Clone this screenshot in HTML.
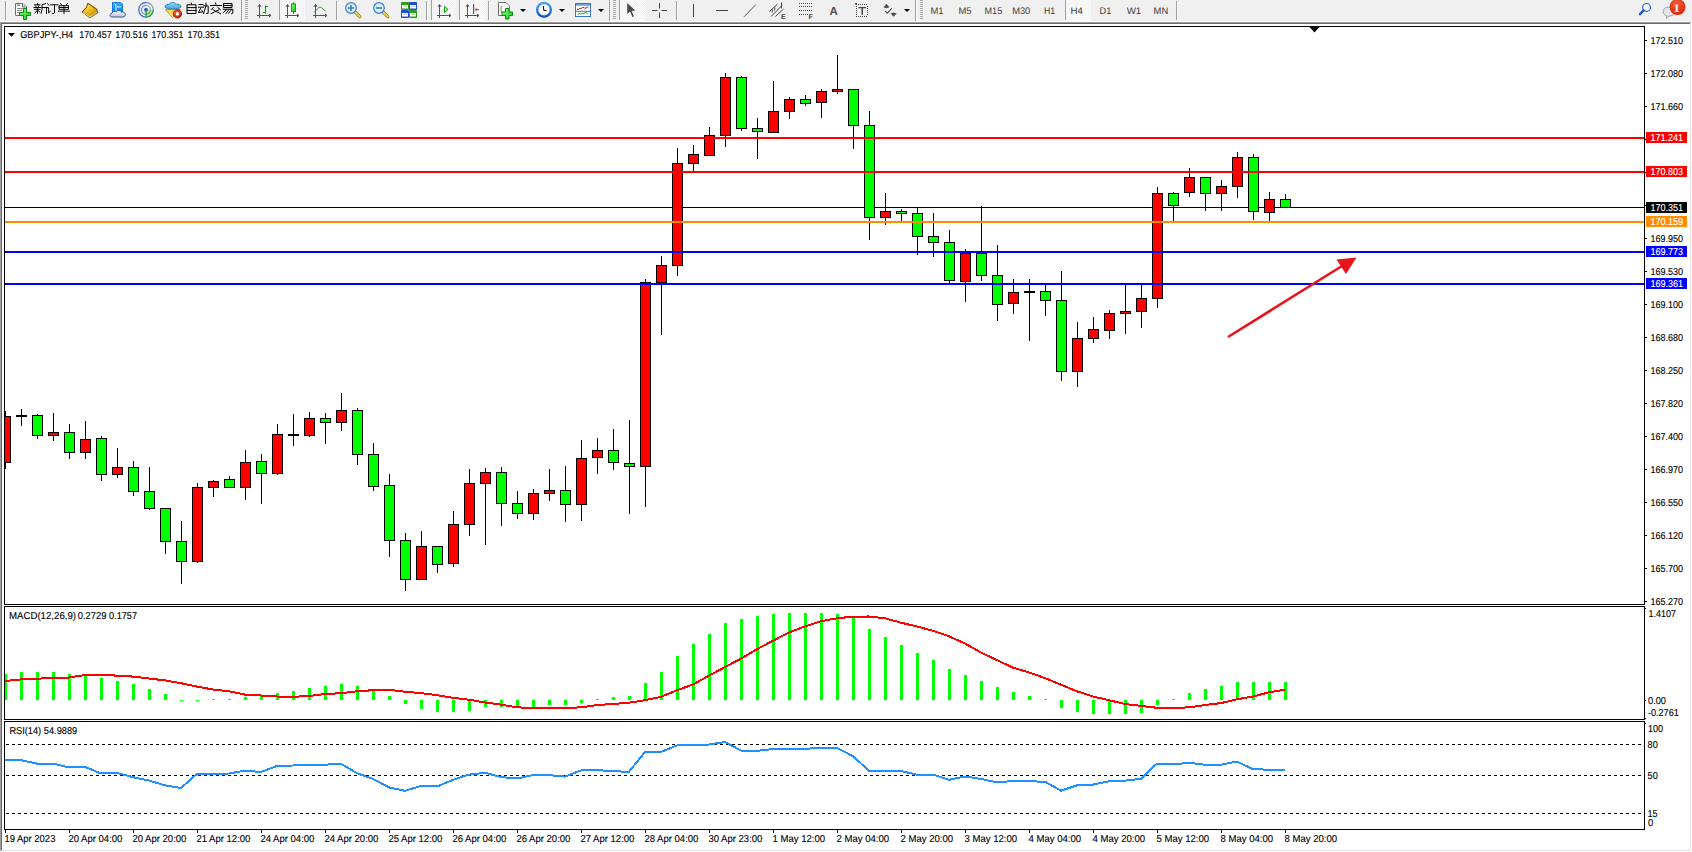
<!DOCTYPE html><html><head><meta charset="utf-8"><title>MT4 GBPJPY H4</title><style>html,body{margin:0;padding:0;background:#fff;}body{width:1692px;height:852px;overflow:hidden;}svg{display:block;font-family:"Liberation Sans",sans-serif;}text{text-rendering:geometricPrecision;}</style></head><body><svg width="1692" height="852" viewBox="0 0 1692 852" font-family="Liberation Sans, sans-serif"><rect x="0" y="0" width="1692" height="852" fill="#fff"/><rect x="0" y="0" width="1692" height="21" fill="#f0f0f0"/><rect x="0" y="21" width="1692" height="1" fill="#f7f7f7"/><rect x="0" y="22" width="1691" height="1" fill="#a0a0a0"/><rect x="0" y="23" width="1690" height="1" fill="#696969"/><rect x="0" y="22" width="1" height="829" fill="#a0a0a0"/><rect x="1" y="23" width="1" height="827" fill="#696969"/><rect x="1690" y="24" width="1" height="827" fill="#e3e3e3"/><rect x="1" y="850" width="1690" height="1" fill="#e3e3e3"/><g id="toolbar"><defs>
<pattern id="chk" width="2" height="2" patternUnits="userSpaceOnUse"><rect width="2" height="2" fill="#f0f0f0"/><rect width="1" height="1" fill="#fff"/><rect x="1" y="1" width="1" height="1" fill="#fff"/></pattern>
<linearGradient id="gGreen" x1="0" y1="0" x2="1" y2="1"><stop offset="0" stop-color="#9cf59c"/><stop offset="1" stop-color="#00d400"/></linearGradient>
<linearGradient id="gGold" x1="0" y1="0" x2="1" y2="1"><stop offset="0" stop-color="#fff1a0"/><stop offset="0.5" stop-color="#f0c418"/><stop offset="1" stop-color="#c88a10"/></linearGradient>
<linearGradient id="gBlue" x1="0" y1="0" x2="0" y2="1"><stop offset="0" stop-color="#34b4ff"/><stop offset="1" stop-color="#0a84e8"/></linearGradient>
<linearGradient id="gCloud" x1="0" y1="0" x2="0" y2="1"><stop offset="0" stop-color="#ffffff"/><stop offset="1" stop-color="#b8c4dc"/></linearGradient>
<linearGradient id="gHat" x1="0" y1="0" x2="0" y2="1"><stop offset="0" stop-color="#9fd6f6"/><stop offset="1" stop-color="#4aa8e0"/></linearGradient>
<linearGradient id="gCone" x1="0" y1="0" x2="0" y2="1"><stop offset="0" stop-color="#f4d040"/><stop offset="1" stop-color="#fff890"/></linearGradient>
<radialGradient id="gRed" cx="0.4" cy="0.35" r="0.7"><stop offset="0" stop-color="#ff5a3a"/><stop offset="1" stop-color="#c81800"/></radialGradient>
<radialGradient id="gBadge" cx="0.45" cy="0.3" r="0.75"><stop offset="0" stop-color="#f06040"/><stop offset="1" stop-color="#d82000"/></radialGradient>
<radialGradient id="gLens" cx="0.5" cy="0.5" r="0.5"><stop offset="0" stop-color="#f4fbff"/><stop offset="1" stop-color="#c6e6fa"/></radialGradient>
</defs>
<!-- separators -->
<g fill="#a0a0a0">
<rect x="5" y="1" width="1" height="19"/>
<rect x="241" y="0" width="1" height="21"/>
<rect x="336" y="1" width="1" height="19"/>
<rect x="426" y="1" width="1" height="19"/>
<rect x="488" y="1" width="1" height="19"/>
<rect x="609" y="0" width="1" height="21"/>
<rect x="676" y="1" width="1" height="19"/>
<rect x="915" y="0" width="1" height="21"/>
<rect x="1176" y="1" width="1" height="19"/>
</g>
<g fill="#fafafa">
<rect x="6" y="1" width="1" height="19"/>
<rect x="242" y="0" width="1" height="21"/>
<rect x="337" y="1" width="1" height="19"/>
<rect x="427" y="1" width="1" height="19"/>
<rect x="489" y="1" width="1" height="19"/>
<rect x="610" y="0" width="1" height="21"/>
<rect x="677" y="1" width="1" height="19"/>
<rect x="916" y="0" width="1" height="21"/>
<rect x="1177" y="1" width="1" height="19"/>
</g>
<!-- grippers -->
<g fill="#a8a8a8">
<path d="M245,0h3v1h-3zM245,2h3v1h-3zM245,4h3v1h-3zM245,6h3v1h-3zM245,8h3v1h-3zM245,10h3v1h-3zM245,12h3v1h-3zM245,14h3v1h-3zM245,16h3v1h-3zM245,18h3v1h-3z"/>
<path d="M613,0h3v1h-3zM613,2h3v1h-3zM613,4h3v1h-3zM613,6h3v1h-3zM613,8h3v1h-3zM613,10h3v1h-3zM613,12h3v1h-3zM613,14h3v1h-3zM613,16h3v1h-3zM613,18h3v1h-3z"/>
<path d="M920,0h3v1h-3zM920,2h3v1h-3zM920,4h3v1h-3zM920,6h3v1h-3zM920,8h3v1h-3zM920,10h3v1h-3zM920,12h3v1h-3zM920,14h3v1h-3zM920,16h3v1h-3zM920,18h3v1h-3z"/>
</g>
<!-- pressed buttons -->
<g>
<rect x="279" y="0" width="1" height="20" fill="#a0a0a0"/><rect x="280" y="0" width="25" height="20" fill="url(#chk)"/><rect x="279" y="20" width="26" height="1" fill="#fff"/>
<rect x="431" y="0" width="1" height="20" fill="#a0a0a0"/><rect x="432" y="0" width="24" height="20" fill="url(#chk)"/><rect x="431" y="20" width="25" height="1" fill="#fff"/>
<rect x="459" y="0" width="1" height="20" fill="#a0a0a0"/><rect x="460" y="0" width="25" height="20" fill="url(#chk)"/><rect x="459" y="20" width="26" height="1" fill="#fff"/>
<rect x="619" y="0" width="1" height="20" fill="#a0a0a0"/><rect x="620" y="0" width="25" height="20" fill="url(#chk)"/><rect x="619" y="20" width="26" height="1" fill="#fff"/>
<rect x="1065" y="0" width="1" height="20" fill="#a0a0a0"/><rect x="1066" y="0" width="25" height="20" fill="url(#chk)"/><rect x="1065" y="20" width="26" height="1" fill="#fff"/>
</g>
<!-- new order icon -->
<g>
<path d="M15.5,3.5 h7.5 l3.5,3.5 v8.5 h-11 z" fill="#fff" stroke="#6e6e6e" stroke-width="1"/>
<path d="M22.5,3.5 v3.5 h3.5" fill="#ddd" stroke="#6e6e6e" stroke-width="1"/>
<rect x="17" y="4.5" width="3" height="1.5" fill="#888"/>
<rect x="17" y="8" width="6" height="1" fill="#888"/>
<rect x="17" y="10" width="5" height="1" fill="#888"/>
<rect x="17" y="12" width="3" height="1" fill="#888"/>
<path d="M23.5,8.5 h3 v4 h4 v3 h-4 v4 h-3 v-4 h-4 v-3 h4 z" fill="url(#gGreen)" stroke="#0a8a0a" stroke-width="1"/>
</g>
<!-- 新订单 -->
<g fill="none" stroke="#000" stroke-width="1" stroke-linecap="square" transform="matrix(1,0,0,0.907,0,0.7)">
<path d="M37.5,3.2 v1.2 M34.5,4.5 h5.5 M35.6,5.6 l0.5,1 M38.9,5.6 l-0.5,1 M34,7.5 h6.5 M34.5,9.5 h5.5 M37.5,7.5 v6.5 M37,10.8 l-2,2.7 M38,10.8 l1.8,1.7"/>
<path d="M45.5,3.2 l-3.5,1.3 v5 l-0.8,4.3 M42,7.5 h5.5 M46.5,7.5 v6.5"/>
<path d="M47.6,3.2 l1,1.6 M47.6,7.6 h1 v6 l1.8,-2.2"/>
<path d="M50.5,4.5 h7.5 M54.5,4.5 v9 l-0.6,0.5 h-1.6"/>
<path d="M60.6,3.2 l1,1.3 M67.4,3.2 l-1,1.3 M59.5,5.5 h9 v4 h-9 z M59.5,7.5 h9 M64,5.5 v8.8 M58.5,11.5 h11"/>
</g>
<!-- gold book -->
<g stroke-linejoin="round">
<path d="M87.8,3.2 L96.6,9.3 L97.7,12.5 L89.8,17.6 L82.2,11.9 L86.4,7.6 Z" fill="#d9a21a" stroke="#8a5806" stroke-width="1.1"/>
<path d="M88.2,4.2 L95.8,9.6 L89.6,14.6 L83.6,11.2 L86.9,7.9 Z" fill="url(#gGold)"/>
<path d="M83.2,12.2 L89.7,16.8 L96.8,12.2" fill="none" stroke="#f6e09a" stroke-width="1"/>
<path d="M90.5,15.6 L96.6,11.6" fill="none" stroke="#b8861a" stroke-width="0.6"/>
</g>
<!-- cloud server -->
<g>
<path d="M112.5,2.5 h8 l2,1.5 v8 h-10 z" fill="url(#gBlue)" stroke="#1a78d0" stroke-width="1"/>
<path d="M114.5,3.5 l1.5,1.5 v6" fill="none" stroke="#e0f4ff" stroke-width="1"/>
<rect x="117" y="6.5" width="4" height="1" fill="#e0f4ff"/>
<path d="M111.5,17 C109.5,17 109.5,13.5 112,13.2 C112.3,11 115.5,10.6 116.2,11.8 C117,9.8 121,10 121.5,12.3 C124,11.5 126.5,13.5 124.8,16 C124.5,17 123.5,17 122.5,17 Z" fill="url(#gCloud)" stroke="#3a5896" stroke-width="1"/>
</g>
<!-- signal -->
<g fill="none">
<path d="M146,9.8 L146,17.1 A7.3,7.3 0 0 0 153.3,9.8 Z" fill="#b4e0b4" stroke="none" opacity="0.8"/>
<path d="M146,2.5 A7.3,7.3 0 0 0 146,17.1" stroke="#4a6ed6" stroke-width="1.3"/>
<path d="M146,2.5 A7.3,7.3 0 0 1 153.3,9.8" stroke="#7fa0c8" stroke-width="1.3"/>
<path d="M153.3,9.8 A7.3,7.3 0 0 1 146,17.1" stroke="#2e9a3e" stroke-width="1.3"/>
<path d="M146,5.3 A4.5,4.5 0 0 0 146,14.3" stroke="#6e8ed8" stroke-width="1.2"/>
<path d="M146,5.3 A4.5,4.5 0 0 1 150.5,9.8" stroke="#9ab8c8" stroke-width="1.2"/>
<path d="M150.5,9.8 A4.5,4.5 0 0 1 146,14.3" stroke="#5aae5a" stroke-width="1.2"/>
<circle cx="146" cy="9.8" r="1.9" fill="#2050d0"/>
<rect x="145.4" y="10" width="1.3" height="7.6" fill="#1eaa1e"/>
</g>
<!-- auto trading -->
<g>
<path d="M165.5,9.5 L180.8,9.5 L172.4,17.5 Z" fill="url(#gCone)" stroke="#c89a10" stroke-width="1" stroke-linejoin="round"/>
<path d="M165,6.8 C165,4.5 168.5,4.2 169.5,4.4 C170,2 175,1.8 175.5,4.2 C178.5,4 181.5,5 181,6.8 C180,8.6 176,8.8 173,8.8 C169,8.8 165.5,8.6 165,6.8 Z" fill="url(#gHat)" stroke="#2080b0" stroke-width="1"/>
<circle cx="177.4" cy="13.9" r="4.2" fill="url(#gRed)" stroke="#a01000" stroke-width="0.8"/>
<rect x="175.9" y="12.4" width="3" height="3" fill="#fff"/>
</g>
<!-- 自动交易 -->
<g fill="none" stroke="#000" stroke-width="1" stroke-linecap="square">
<path d="M191.2,3 l0.4,1.3 M187.5,4.8 h8.5 v8.7 h-8.5 z M187.5,7.6 h8.5 M187.5,10.4 h8.5"/>
<path d="M199,4.5 h4 M198.5,7.2 h5 M200.5,8.5 l-2,4 l4.2,-0.6 M201.8,10.3 l1,1.8"/>
<path d="M206,3.2 v2.6 l-2.5,7.8 M203.8,5.9 h4.4 v7.4 l-1.6,0.2"/>
<path d="M215.5,3 l0.4,1.3 M210.5,5.5 h11 M213.3,7.5 l-2,2 M217.8,7.5 l2.5,2 M213,9.8 l7.5,3.9 M219,9.8 l-8,3.9"/>
<path d="M224,3.5 h8 v4 h-8 z M224,5.5 h8 M223.2,9.2 h9.6 v4 l-1.2,0.5 M226.5,9.6 l-3,2.8 M229,9.6 l-3,3.8 M231.5,9.6 l-3,3.8"/>
</g>
<!-- bar chart icon -->
<g fill="none" stroke="#545454" stroke-width="1">
<path d="M259.5,5 v13 M257,15.5 h13.5"/>
<path d="M258,6.5 l1.5,-2 l1.5,2 M269,14 l2,1.5 l-2,1.5" fill="#545454"/>
</g>
<path d="M265.5,5.5 v8.3 M263,12.5 h2.5 M265.5,6.5 h2.4" fill="none" stroke="#10a010" stroke-width="1.1"/>
<!-- candle icon -->
<g fill="none" stroke="#545454" stroke-width="1">
<path d="M287.5,5 v13 M285,15.5 h13.5"/>
<path d="M286,6.5 l1.5,-2 l1.5,2 M297,14 l2,1.5 l-2,1.5" fill="#545454"/>
</g>
<rect x="293" y="2" width="1" height="12" fill="#10a010"/>
<rect x="291.5" y="4" width="4" height="7.5" fill="url(#gGreen)" stroke="#10a010" stroke-width="1"/>
<!-- line chart icon -->
<g fill="none" stroke="#545454" stroke-width="1">
<path d="M315.5,5 v13 M313,15.5 h13.5"/>
<path d="M314,6.5 l1.5,-2 l1.5,2 M325,14 l2,1.5 l-2,1.5" fill="#545454"/>
</g>
<path d="M314.2,12.4 C316.5,10 318.5,7 320.2,7.1 C322,7.2 323.8,10.4 325.6,10.9" fill="none" stroke="#2a9a2a" stroke-width="1"/>
<!-- zoom in / out -->
<g>
<path d="M354.2,11.2 L359.8,16.6" stroke="#9a7a10" stroke-width="3.2" stroke-linecap="round"/>
<path d="M354.2,11.2 L359.8,16.6" stroke="#ecd860" stroke-width="1.6" stroke-linecap="round"/>
<circle cx="351" cy="8" r="5.3" fill="url(#gLens)" stroke="#3a82d0" stroke-width="1.2"/>
<path d="M348,8 h6 M351,5 v6" stroke="#3a80a8" stroke-width="1.6"/>
<path d="M382.2,11.2 L387.8,16.6" stroke="#9a7a10" stroke-width="3.2" stroke-linecap="round"/>
<path d="M382.2,11.2 L387.8,16.6" stroke="#ecd860" stroke-width="1.6" stroke-linecap="round"/>
<circle cx="379" cy="8" r="5.3" fill="url(#gLens)" stroke="#3a82d0" stroke-width="1.2"/>
<path d="M376,8 h6" stroke="#3a80a8" stroke-width="1.6"/>
</g>
<!-- tile windows -->
<g>
<rect x="401" y="2" width="8" height="8" rx="0.8" fill="#2c9c1c"/>
<rect x="409" y="2" width="8" height="8" rx="0.8" fill="#1f4fd0"/>
<rect x="401" y="10" width="8" height="8" rx="0.8" fill="#1f4fd0"/>
<rect x="409" y="10" width="8" height="8" rx="0.8" fill="#2c9c1c"/>
<g fill="#fff"><rect x="402" y="5" width="6" height="3.5"/><rect x="410" y="5" width="6" height="3.5"/><rect x="402" y="13" width="6" height="3.5"/><rect x="410" y="13" width="6" height="3.5"/></g>
<g fill="#a0d890"><rect x="403" y="6" width="4" height="0.8"/><rect x="411" y="14" width="4" height="0.8"/></g>
<g fill="#90a8e8"><rect x="411" y="6" width="1.5" height="0.8"/><rect x="413.5" y="6" width="1.5" height="0.8"/><rect x="403" y="14" width="1.5" height="0.8"/><rect x="405.5" y="14" width="1.5" height="0.8"/></g>
</g>
<!-- autoscroll -->
<g fill="none" stroke="#545454" stroke-width="1">
<path d="M439.5,5 v13 M437,15.5 h13.5"/>
<path d="M438,6.5 l1.5,-2 l1.5,2 M449,14 l2,1.5 l-2,1.5" fill="#545454"/>
</g>
<path d="M444.5,6.5 L448,9.5 L444.5,12.5 Z" fill="#b8f0b0" stroke="#10a010" stroke-width="1"/>
<!-- chart shift -->
<g fill="none" stroke="#545454" stroke-width="1">
<path d="M467.5,5 v13 M465,15.5 h13.5"/>
<path d="M466,6.5 l1.5,-2 l1.5,2 M477,14 l2,1.5 l-2,1.5" fill="#545454"/>
</g>
<rect x="473" y="4" width="1.2" height="10" fill="#1a6aa8"/>
<path d="M474.5,9.5 L477,7.3 L476.4,9 L479,9 L479,10 L476.4,10 L477,11.7 Z" fill="#e04a10"/>
<!-- new chart -->
<g>
<path d="M498.5,2.5 h7.5 l3.3,3.3 v9.7 h-10.8 z" fill="#fff" stroke="#6e6e6e" stroke-width="1"/>
<path d="M501.5,6 c-0.6,2 -0.6,4.5 0,7" stroke="#555" fill="none" stroke-width="0.8"/>
<path d="M505.5,8.5 h3.5 v3.5 h3.5 v3.5 h-3.5 v3.5 h-3.5 v-3.5 h-3.5 v-3.5 h3.5 z" fill="url(#gGreen)" stroke="#0a8a0a" stroke-width="1"/>
</g>
<g fill="#000">
<path d="M520,9 h6 l-3,3 z"/>
<path d="M559,9 h6 l-3,3 z"/>
<path d="M598,9 h6 l-3,3 z"/>
<path d="M904,9 h6 l-3,3 z"/>
</g>
<!-- clock -->
<g>
<defs><linearGradient id="gClk" x1="0" y1="0" x2="0" y2="1"><stop offset="0" stop-color="#4aa8ff"/><stop offset="1" stop-color="#0a4ca8"/></linearGradient></defs>
<circle cx="544" cy="9.8" r="8" fill="url(#gClk)"/>
<circle cx="544" cy="9.8" r="5.7" fill="#fff"/>
<path d="M543.4,6 L543.7,10 L546.6,10.8" fill="none" stroke="#111" stroke-width="1.1"/>
<g fill="#999"><rect x="543.5" y="4.4" width="1" height="0.8"/><rect x="548.6" y="9.4" width="0.8" height="1"/><rect x="538.6" y="9.4" width="0.8" height="1"/><rect x="543.5" y="14.4" width="1.2" height="0.8" fill="#5aa0ff"/></g>
</g>
<!-- templates -->
<g>
<rect x="575.5" y="3.5" width="15" height="13" fill="#fff" stroke="#3a74c4" stroke-width="1"/>
<rect x="576" y="4" width="14" height="1.8" fill="#6aa4e4"/>
<rect x="576" y="10.8" width="14" height="1" fill="#3a74c4"/>
<path d="M577,9.3 h1.5 l1.5,-1 l1.5,0 l1.5,-1 l1.5,0.8 l1.5,0 l1.5,-1 h1" fill="none" stroke="#a82810" stroke-width="1"/>
<path d="M578,14.3 l1.5,-0.8 l1.5,0.6 l1.5,-0.8 l1.5,0.5 l1.5,-1.8 l2,2" fill="none" stroke="#1a9a1a" stroke-width="1"/>
</g>
<!-- cursor -->
<path d="M627.2,3 L635.2,10.6 L631.6,10.9 L634,16.4 L632.4,17.1 L630.1,11.6 L627.2,14 Z" fill="#4a4a4a"/>
<!-- crosshair -->
<path d="M659.5,3 v5.5 M659.5,12.5 v5.5 M652,10.5 h5.5 M661.5,10.5 h5.5" stroke="#444" stroke-width="1"/>
<!-- v line, h line, trend line -->
<rect x="693" y="4" width="1" height="13" fill="#444"/>
<rect x="716" y="10" width="12" height="1" fill="#444"/>
<path d="M744,16.8 L755.8,4.6" stroke="#555" stroke-width="1"/>
<!-- channel E -->
<g stroke="#444" stroke-width="1" fill="none">
<path d="M769.5,11.5 L777.5,4 M771,16.5 L782,5.5 M775.5,16.5 L783.5,9"/>
<path d="M772.5,9.5 l-0.5,3 M775,7.5 l-0.5,3 M781.5,2.5 v6"/>
</g>
<text x="781" y="19" font-size="7" font-weight="bold" fill="#444">E</text>
<!-- fibo -->
<g fill="#444">
<path d="M799,3h1v1h-1zM801,3h1v1h-1zM803,3h1v1h-1zM805,3h1v1h-1zM807,3h1v1h-1zM809,3h1v1h-1zM811,3h1v1h-1z"/>
<path d="M799,6h1v1h-1zM801,6h1v1h-1zM803,6h1v1h-1zM805,6h1v1h-1zM807,6h1v1h-1zM809,6h1v1h-1zM811,6h1v1h-1z"/>
<path d="M799,10h1v1h-1zM801,10h1v1h-1zM803,10h1v1h-1zM805,10h1v1h-1zM807,10h1v1h-1zM809,10h1v1h-1zM811,10h1v1h-1z"/>
<path d="M799,14h1v1h-1zM801,14h1v1h-1zM803,14h1v1h-1zM805,14h1v1h-1zM807,14h1v1h-1z"/>
</g>
<text x="808.6" y="19" font-size="7" font-weight="bold" fill="#444">F</text>
<!-- A -->
<text x="829.6" y="15" font-size="11.5" font-weight="bold" fill="#505050">A</text>
<!-- T label -->
<g fill="#444">
<path d="M856,4h1v1h-1zM858,4h1v1h-1zM860,4h1v1h-1zM862,4h1v1h-1zM864,4h1v1h-1zM866,4h1v1h-1z"/>
<path d="M856,16h1v1h-1zM858,16h1v1h-1zM860,16h1v1h-1zM862,16h1v1h-1zM864,16h1v1h-1zM866,16h1v1h-1z"/>
<path d="M856,6h1v1h-1zM856,8h1v1h-1zM856,10h1v1h-1zM856,12h1v1h-1zM856,14h1v1h-1z"/>
<path d="M867,6h1v1h-1zM867,8h1v1h-1zM867,10h1v1h-1zM867,12h1v1h-1zM867,14h1v1h-1z"/>
<rect x="855" y="3" width="2" height="1.5"/>
<path d="M858.5,7 h7.5 v1.3 h-3 v6.4 h-1.5 v-6.4 h-3 z"/>
</g>
<!-- arrows icon -->
<g fill="#4a4a4a">
<path d="M886.5,4 L889.5,7.2 L886.5,8.2 L883.5,7.2 Z"/>
<path d="M893.6,16.8 L890.6,13.6 L893.6,12.6 L896.6,13.6 Z"/>
</g>
<path d="M885.2,11.2 L887.2,13.2 L891.8,8.4" fill="none" stroke="#4a4a4a" stroke-width="1.1"/>
<!-- timeframes -->
<g font-size="9.6" fill="#3c3c3c">
<text x="930.4" y="13.6" textLength="13" lengthAdjust="spacingAndGlyphs">M1</text>
<text x="958.4" y="13.6" textLength="13" lengthAdjust="spacingAndGlyphs">M5</text>
<text x="984.5" y="13.6" textLength="17.7" lengthAdjust="spacingAndGlyphs">M15</text>
<text x="1012.2" y="13.6" textLength="18.1" lengthAdjust="spacingAndGlyphs">M30</text>
<text x="1043.9" y="13.6" textLength="11.2" lengthAdjust="spacingAndGlyphs">H1</text>
<text x="1070.6" y="13.6" textLength="12.3" lengthAdjust="spacingAndGlyphs">H4</text>
<text x="1099.5" y="13.6" textLength="11.8" lengthAdjust="spacingAndGlyphs">D1</text>
<text x="1126.7" y="13.6" textLength="14.6" lengthAdjust="spacingAndGlyphs">W1</text>
<text x="1153.6" y="13.6" textLength="14.6" lengthAdjust="spacingAndGlyphs">MN</text>
</g>
<!-- search -->
<g>
<circle cx="1646.6" cy="7.4" r="3.9" fill="#f4f6ff" stroke="#2a62d4" stroke-width="1.2"/>
<path d="M1643.6,10.4 L1640,14.2" stroke="#1f54c8" stroke-width="2.4" stroke-linecap="round"/>
</g>
<!-- chat + badge -->
<g>
<path d="M1668.5,7.2 C1664,7.2 1663,10 1663.2,12 C1663.4,14.5 1665.5,15.6 1667,15.8 L1666.2,18.2 L1669.2,15.9 C1672,15.9 1675,15 1675,11.6 C1675,8.5 1672,7.2 1668.5,7.2 Z" fill="#e4e6ee" stroke="#a0a0a0" stroke-width="1"/>
<circle cx="1677.5" cy="7" r="8" fill="url(#gBadge)"/>
<text x="1676.6" y="11.9" font-size="11.5" font-weight="bold" font-family="Liberation Serif" fill="#fff" text-anchor="middle">1</text>
</g>
</g><!-- CHART --><g shape-rendering="crispEdges"><rect x="4.5" y="26.5" width="1640" height="578" fill="none" stroke="#000"/><rect x="4.5" y="606.5" width="1640" height="113" fill="none" stroke="#000"/><rect x="4.5" y="721.5" width="1640" height="108" fill="none" stroke="#000"/></g><clipPath id="cm"><rect x="5" y="27" width="1639" height="577"/></clipPath><clipPath id="cd"><rect x="5" y="607" width="1639" height="112"/></clipPath><clipPath id="cr"><rect x="5" y="722" width="1639" height="107"/></clipPath><g clip-path="url(#cm)" shape-rendering="crispEdges"><rect x="5" y="207" width="1639" height="1" fill="#000"/><rect x="5" y="411" width="1" height="5" fill="#000"/><rect x="5" y="463" width="1" height="6" fill="#000"/><rect x="0" y="416" width="11" height="47" fill="#000"/><rect x="1" y="417" width="9" height="45" fill="#ff0000"/><rect x="21" y="409" width="1" height="6" fill="#000"/><rect x="21" y="417" width="1" height="9" fill="#000"/><rect x="16" y="415" width="11" height="2" fill="#000"/><rect x="37" y="414" width="1" height="1" fill="#000"/><rect x="37" y="436" width="1" height="3" fill="#000"/><rect x="32" y="415" width="11" height="21" fill="#000"/><rect x="33" y="416" width="9" height="19" fill="#00ff00"/><rect x="53" y="413" width="1" height="19" fill="#000"/><rect x="53" y="436" width="1" height="5" fill="#000"/><rect x="48" y="432" width="11" height="4" fill="#000"/><rect x="49" y="433" width="9" height="2" fill="#ff0000"/><rect x="69" y="424" width="1" height="8" fill="#000"/><rect x="69" y="453" width="1" height="6" fill="#000"/><rect x="64" y="432" width="11" height="21" fill="#000"/><rect x="65" y="433" width="9" height="19" fill="#00ff00"/><rect x="85" y="421" width="1" height="18" fill="#000"/><rect x="85" y="453" width="1" height="6" fill="#000"/><rect x="80" y="439" width="11" height="14" fill="#000"/><rect x="81" y="440" width="9" height="12" fill="#ff0000"/><rect x="101" y="436" width="1" height="2" fill="#000"/><rect x="101" y="475" width="1" height="6" fill="#000"/><rect x="96" y="438" width="11" height="37" fill="#000"/><rect x="97" y="439" width="9" height="35" fill="#00ff00"/><rect x="117" y="448" width="1" height="19" fill="#000"/><rect x="117" y="475" width="1" height="3" fill="#000"/><rect x="112" y="467" width="11" height="8" fill="#000"/><rect x="113" y="468" width="9" height="6" fill="#ff0000"/><rect x="133" y="461" width="1" height="6" fill="#000"/><rect x="133" y="492" width="1" height="4" fill="#000"/><rect x="128" y="467" width="11" height="25" fill="#000"/><rect x="129" y="468" width="9" height="23" fill="#00ff00"/><rect x="149" y="467" width="1" height="24" fill="#000"/><rect x="149" y="509" width="1" height="1" fill="#000"/><rect x="144" y="491" width="11" height="18" fill="#000"/><rect x="145" y="492" width="9" height="16" fill="#00ff00"/><rect x="165" y="542" width="1" height="12" fill="#000"/><rect x="160" y="508" width="11" height="34" fill="#000"/><rect x="161" y="509" width="9" height="32" fill="#00ff00"/><rect x="181" y="521" width="1" height="20" fill="#000"/><rect x="181" y="562" width="1" height="22" fill="#000"/><rect x="176" y="541" width="11" height="21" fill="#000"/><rect x="177" y="542" width="9" height="19" fill="#00ff00"/><rect x="197" y="483" width="1" height="4" fill="#000"/><rect x="197" y="562" width="1" height="1" fill="#000"/><rect x="192" y="487" width="11" height="75" fill="#000"/><rect x="193" y="488" width="9" height="73" fill="#ff0000"/><rect x="213" y="480" width="1" height="1" fill="#000"/><rect x="213" y="488" width="1" height="9" fill="#000"/><rect x="208" y="481" width="11" height="7" fill="#000"/><rect x="209" y="482" width="9" height="5" fill="#ff0000"/><rect x="229" y="476" width="1" height="3" fill="#000"/><rect x="224" y="479" width="11" height="9" fill="#000"/><rect x="225" y="480" width="9" height="7" fill="#00ff00"/><rect x="245" y="450" width="1" height="12" fill="#000"/><rect x="245" y="488" width="1" height="12" fill="#000"/><rect x="240" y="462" width="11" height="26" fill="#000"/><rect x="241" y="463" width="9" height="24" fill="#ff0000"/><rect x="261" y="454" width="1" height="7" fill="#000"/><rect x="261" y="474" width="1" height="30" fill="#000"/><rect x="256" y="461" width="11" height="13" fill="#000"/><rect x="257" y="462" width="9" height="11" fill="#00ff00"/><rect x="277" y="424" width="1" height="10" fill="#000"/><rect x="277" y="474" width="1" height="1" fill="#000"/><rect x="272" y="434" width="11" height="40" fill="#000"/><rect x="273" y="435" width="9" height="38" fill="#ff0000"/><rect x="293" y="414" width="1" height="20" fill="#000"/><rect x="293" y="436" width="1" height="10" fill="#000"/><rect x="288" y="434" width="11" height="2" fill="#000"/><rect x="309" y="412" width="1" height="6" fill="#000"/><rect x="309" y="436" width="1" height="1" fill="#000"/><rect x="304" y="418" width="11" height="18" fill="#000"/><rect x="305" y="419" width="9" height="16" fill="#ff0000"/><rect x="325" y="413" width="1" height="5" fill="#000"/><rect x="325" y="423" width="1" height="21" fill="#000"/><rect x="320" y="418" width="11" height="5" fill="#000"/><rect x="321" y="419" width="9" height="3" fill="#00ff00"/><rect x="341" y="393" width="1" height="17" fill="#000"/><rect x="341" y="423" width="1" height="8" fill="#000"/><rect x="336" y="410" width="11" height="13" fill="#000"/><rect x="337" y="411" width="9" height="11" fill="#ff0000"/><rect x="357" y="408" width="1" height="2" fill="#000"/><rect x="357" y="455" width="1" height="10" fill="#000"/><rect x="352" y="410" width="11" height="45" fill="#000"/><rect x="353" y="411" width="9" height="43" fill="#00ff00"/><rect x="373" y="443" width="1" height="11" fill="#000"/><rect x="373" y="487" width="1" height="4" fill="#000"/><rect x="368" y="454" width="11" height="33" fill="#000"/><rect x="369" y="455" width="9" height="31" fill="#00ff00"/><rect x="389" y="474" width="1" height="11" fill="#000"/><rect x="389" y="541" width="1" height="16" fill="#000"/><rect x="384" y="485" width="11" height="56" fill="#000"/><rect x="385" y="486" width="9" height="54" fill="#00ff00"/><rect x="405" y="533" width="1" height="7" fill="#000"/><rect x="405" y="580" width="1" height="11" fill="#000"/><rect x="400" y="540" width="11" height="40" fill="#000"/><rect x="401" y="541" width="9" height="38" fill="#00ff00"/><rect x="421" y="531" width="1" height="15" fill="#000"/><rect x="416" y="546" width="11" height="34" fill="#000"/><rect x="417" y="547" width="9" height="32" fill="#ff0000"/><rect x="437" y="565" width="1" height="8" fill="#000"/><rect x="432" y="546" width="11" height="19" fill="#000"/><rect x="433" y="547" width="9" height="17" fill="#00ff00"/><rect x="453" y="511" width="1" height="13" fill="#000"/><rect x="453" y="564" width="1" height="3" fill="#000"/><rect x="448" y="524" width="11" height="40" fill="#000"/><rect x="449" y="525" width="9" height="38" fill="#ff0000"/><rect x="469" y="469" width="1" height="14" fill="#000"/><rect x="469" y="525" width="1" height="11" fill="#000"/><rect x="464" y="483" width="11" height="42" fill="#000"/><rect x="465" y="484" width="9" height="40" fill="#ff0000"/><rect x="485" y="468" width="1" height="4" fill="#000"/><rect x="485" y="484" width="1" height="61" fill="#000"/><rect x="480" y="472" width="11" height="12" fill="#000"/><rect x="481" y="473" width="9" height="10" fill="#ff0000"/><rect x="501" y="467" width="1" height="5" fill="#000"/><rect x="501" y="504" width="1" height="22" fill="#000"/><rect x="496" y="472" width="11" height="32" fill="#000"/><rect x="497" y="473" width="9" height="30" fill="#00ff00"/><rect x="517" y="491" width="1" height="12" fill="#000"/><rect x="517" y="514" width="1" height="5" fill="#000"/><rect x="512" y="503" width="11" height="11" fill="#000"/><rect x="513" y="504" width="9" height="9" fill="#00ff00"/><rect x="533" y="489" width="1" height="4" fill="#000"/><rect x="533" y="514" width="1" height="6" fill="#000"/><rect x="528" y="493" width="11" height="21" fill="#000"/><rect x="529" y="494" width="9" height="19" fill="#ff0000"/><rect x="549" y="469" width="1" height="21" fill="#000"/><rect x="549" y="494" width="1" height="7" fill="#000"/><rect x="544" y="490" width="11" height="4" fill="#000"/><rect x="545" y="491" width="9" height="2" fill="#ff0000"/><rect x="565" y="466" width="1" height="24" fill="#000"/><rect x="565" y="505" width="1" height="17" fill="#000"/><rect x="560" y="490" width="11" height="15" fill="#000"/><rect x="561" y="491" width="9" height="13" fill="#00ff00"/><rect x="581" y="440" width="1" height="18" fill="#000"/><rect x="581" y="505" width="1" height="16" fill="#000"/><rect x="576" y="458" width="11" height="47" fill="#000"/><rect x="577" y="459" width="9" height="45" fill="#ff0000"/><rect x="597" y="438" width="1" height="12" fill="#000"/><rect x="597" y="458" width="1" height="16" fill="#000"/><rect x="592" y="450" width="11" height="8" fill="#000"/><rect x="593" y="451" width="9" height="6" fill="#ff0000"/><rect x="613" y="429" width="1" height="21" fill="#000"/><rect x="613" y="463" width="1" height="7" fill="#000"/><rect x="608" y="450" width="11" height="13" fill="#000"/><rect x="609" y="451" width="9" height="11" fill="#00ff00"/><rect x="629" y="420" width="1" height="43" fill="#000"/><rect x="629" y="467" width="1" height="47" fill="#000"/><rect x="624" y="463" width="11" height="4" fill="#000"/><rect x="625" y="464" width="9" height="2" fill="#00ff00"/><rect x="645" y="279" width="1" height="3" fill="#000"/><rect x="645" y="467" width="1" height="40" fill="#000"/><rect x="640" y="282" width="11" height="185" fill="#000"/><rect x="641" y="283" width="9" height="183" fill="#ff0000"/><rect x="661" y="256" width="1" height="9" fill="#000"/><rect x="661" y="283" width="1" height="52" fill="#000"/><rect x="656" y="265" width="11" height="18" fill="#000"/><rect x="657" y="266" width="9" height="16" fill="#ff0000"/><rect x="677" y="148" width="1" height="15" fill="#000"/><rect x="677" y="266" width="1" height="10" fill="#000"/><rect x="672" y="163" width="11" height="103" fill="#000"/><rect x="673" y="164" width="9" height="101" fill="#ff0000"/><rect x="693" y="145" width="1" height="9" fill="#000"/><rect x="693" y="164" width="1" height="7" fill="#000"/><rect x="688" y="154" width="11" height="10" fill="#000"/><rect x="689" y="155" width="9" height="8" fill="#ff0000"/><rect x="709" y="127" width="1" height="8" fill="#000"/><rect x="704" y="135" width="11" height="21" fill="#000"/><rect x="705" y="136" width="9" height="19" fill="#ff0000"/><rect x="725" y="73" width="1" height="4" fill="#000"/><rect x="725" y="136" width="1" height="11" fill="#000"/><rect x="720" y="77" width="11" height="59" fill="#000"/><rect x="721" y="78" width="9" height="57" fill="#ff0000"/><rect x="741" y="76" width="1" height="1" fill="#000"/><rect x="741" y="129" width="1" height="2" fill="#000"/><rect x="736" y="77" width="11" height="52" fill="#000"/><rect x="737" y="78" width="9" height="50" fill="#00ff00"/><rect x="757" y="118" width="1" height="10" fill="#000"/><rect x="757" y="132" width="1" height="27" fill="#000"/><rect x="752" y="128" width="11" height="4" fill="#000"/><rect x="753" y="129" width="9" height="2" fill="#00ff00"/><rect x="773" y="81" width="1" height="30" fill="#000"/><rect x="768" y="111" width="11" height="22" fill="#000"/><rect x="769" y="112" width="9" height="20" fill="#ff0000"/><rect x="789" y="97" width="1" height="2" fill="#000"/><rect x="789" y="112" width="1" height="7" fill="#000"/><rect x="784" y="99" width="11" height="13" fill="#000"/><rect x="785" y="100" width="9" height="11" fill="#ff0000"/><rect x="805" y="95" width="1" height="4" fill="#000"/><rect x="805" y="104" width="1" height="2" fill="#000"/><rect x="800" y="99" width="11" height="5" fill="#000"/><rect x="801" y="100" width="9" height="3" fill="#00ff00"/><rect x="821" y="89" width="1" height="2" fill="#000"/><rect x="821" y="103" width="1" height="15" fill="#000"/><rect x="816" y="91" width="11" height="12" fill="#000"/><rect x="817" y="92" width="9" height="10" fill="#ff0000"/><rect x="837" y="55" width="1" height="34" fill="#000"/><rect x="837" y="92" width="1" height="2" fill="#000"/><rect x="832" y="89" width="11" height="3" fill="#000"/><rect x="833" y="90" width="9" height="1" fill="#ff0000"/><rect x="853" y="126" width="1" height="23" fill="#000"/><rect x="848" y="89" width="11" height="37" fill="#000"/><rect x="849" y="90" width="9" height="35" fill="#00ff00"/><rect x="869" y="111" width="1" height="14" fill="#000"/><rect x="869" y="218" width="1" height="22" fill="#000"/><rect x="864" y="125" width="11" height="93" fill="#000"/><rect x="865" y="126" width="9" height="91" fill="#00ff00"/><rect x="885" y="193" width="1" height="18" fill="#000"/><rect x="885" y="218" width="1" height="7" fill="#000"/><rect x="880" y="211" width="11" height="7" fill="#000"/><rect x="881" y="212" width="9" height="5" fill="#ff0000"/><rect x="901" y="209" width="1" height="2" fill="#000"/><rect x="901" y="214" width="1" height="7" fill="#000"/><rect x="896" y="211" width="11" height="3" fill="#000"/><rect x="897" y="212" width="9" height="1" fill="#00ff00"/><rect x="917" y="207" width="1" height="6" fill="#000"/><rect x="917" y="237" width="1" height="18" fill="#000"/><rect x="912" y="213" width="11" height="24" fill="#000"/><rect x="913" y="214" width="9" height="22" fill="#00ff00"/><rect x="933" y="213" width="1" height="23" fill="#000"/><rect x="933" y="243" width="1" height="14" fill="#000"/><rect x="928" y="236" width="11" height="7" fill="#000"/><rect x="929" y="237" width="9" height="5" fill="#00ff00"/><rect x="949" y="230" width="1" height="12" fill="#000"/><rect x="949" y="281" width="1" height="2" fill="#000"/><rect x="944" y="242" width="11" height="39" fill="#000"/><rect x="945" y="243" width="9" height="37" fill="#00ff00"/><rect x="965" y="249" width="1" height="4" fill="#000"/><rect x="965" y="282" width="1" height="20" fill="#000"/><rect x="960" y="253" width="11" height="29" fill="#000"/><rect x="961" y="254" width="9" height="27" fill="#ff0000"/><rect x="981" y="206" width="1" height="47" fill="#000"/><rect x="981" y="276" width="1" height="5" fill="#000"/><rect x="976" y="253" width="11" height="23" fill="#000"/><rect x="977" y="254" width="9" height="21" fill="#00ff00"/><rect x="997" y="245" width="1" height="30" fill="#000"/><rect x="997" y="305" width="1" height="16" fill="#000"/><rect x="992" y="275" width="11" height="30" fill="#000"/><rect x="993" y="276" width="9" height="28" fill="#00ff00"/><rect x="1013" y="279" width="1" height="13" fill="#000"/><rect x="1013" y="304" width="1" height="10" fill="#000"/><rect x="1008" y="292" width="11" height="12" fill="#000"/><rect x="1009" y="293" width="9" height="10" fill="#ff0000"/><rect x="1029" y="279" width="1" height="12" fill="#000"/><rect x="1029" y="293" width="1" height="48" fill="#000"/><rect x="1024" y="291" width="11" height="2" fill="#000"/><rect x="1045" y="285" width="1" height="6" fill="#000"/><rect x="1045" y="301" width="1" height="15" fill="#000"/><rect x="1040" y="291" width="11" height="10" fill="#000"/><rect x="1041" y="292" width="9" height="8" fill="#00ff00"/><rect x="1061" y="271" width="1" height="29" fill="#000"/><rect x="1061" y="372" width="1" height="9" fill="#000"/><rect x="1056" y="300" width="11" height="72" fill="#000"/><rect x="1057" y="301" width="9" height="70" fill="#00ff00"/><rect x="1077" y="322" width="1" height="16" fill="#000"/><rect x="1077" y="372" width="1" height="15" fill="#000"/><rect x="1072" y="338" width="11" height="34" fill="#000"/><rect x="1073" y="339" width="9" height="32" fill="#ff0000"/><rect x="1093" y="317" width="1" height="12" fill="#000"/><rect x="1093" y="339" width="1" height="4" fill="#000"/><rect x="1088" y="329" width="11" height="10" fill="#000"/><rect x="1089" y="330" width="9" height="8" fill="#ff0000"/><rect x="1109" y="310" width="1" height="3" fill="#000"/><rect x="1109" y="331" width="1" height="8" fill="#000"/><rect x="1104" y="313" width="11" height="18" fill="#000"/><rect x="1105" y="314" width="9" height="16" fill="#ff0000"/><rect x="1125" y="285" width="1" height="26" fill="#000"/><rect x="1125" y="314" width="1" height="20" fill="#000"/><rect x="1120" y="311" width="11" height="3" fill="#000"/><rect x="1121" y="312" width="9" height="1" fill="#ff0000"/><rect x="1141" y="285" width="1" height="13" fill="#000"/><rect x="1141" y="312" width="1" height="16" fill="#000"/><rect x="1136" y="298" width="11" height="14" fill="#000"/><rect x="1137" y="299" width="9" height="12" fill="#ff0000"/><rect x="1157" y="187" width="1" height="6" fill="#000"/><rect x="1157" y="299" width="1" height="9" fill="#000"/><rect x="1152" y="193" width="11" height="106" fill="#000"/><rect x="1153" y="194" width="9" height="104" fill="#ff0000"/><rect x="1173" y="192" width="1" height="1" fill="#000"/><rect x="1173" y="206" width="1" height="15" fill="#000"/><rect x="1168" y="193" width="11" height="13" fill="#000"/><rect x="1169" y="194" width="9" height="11" fill="#00ff00"/><rect x="1189" y="168" width="1" height="9" fill="#000"/><rect x="1189" y="193" width="1" height="4" fill="#000"/><rect x="1184" y="177" width="11" height="16" fill="#000"/><rect x="1185" y="178" width="9" height="14" fill="#ff0000"/><rect x="1205" y="194" width="1" height="17" fill="#000"/><rect x="1200" y="177" width="11" height="17" fill="#000"/><rect x="1201" y="178" width="9" height="15" fill="#00ff00"/><rect x="1221" y="180" width="1" height="6" fill="#000"/><rect x="1221" y="194" width="1" height="17" fill="#000"/><rect x="1216" y="186" width="11" height="8" fill="#000"/><rect x="1217" y="187" width="9" height="6" fill="#ff0000"/><rect x="1237" y="152" width="1" height="5" fill="#000"/><rect x="1237" y="187" width="1" height="11" fill="#000"/><rect x="1232" y="157" width="11" height="30" fill="#000"/><rect x="1233" y="158" width="9" height="28" fill="#ff0000"/><rect x="1253" y="154" width="1" height="3" fill="#000"/><rect x="1253" y="212" width="1" height="8" fill="#000"/><rect x="1248" y="157" width="11" height="55" fill="#000"/><rect x="1249" y="158" width="9" height="53" fill="#00ff00"/><rect x="1269" y="192" width="1" height="7" fill="#000"/><rect x="1269" y="213" width="1" height="8" fill="#000"/><rect x="1264" y="199" width="11" height="14" fill="#000"/><rect x="1265" y="200" width="9" height="12" fill="#ff0000"/><rect x="1285" y="194" width="1" height="5" fill="#000"/><rect x="1280" y="199" width="11" height="9" fill="#000"/><rect x="1281" y="200" width="9" height="7" fill="#00ff00"/><rect x="5" y="137" width="1639" height="2" fill="#ff0000"/><rect x="5" y="171" width="1639" height="2" fill="#ff0000"/><rect x="5" y="221" width="1639" height="2" fill="#ff8c00"/><rect x="5" y="251" width="1639" height="2" fill="#0000ff"/><rect x="5" y="283" width="1639" height="2" fill="#0000ff"/></g><g clip-path="url(#cm)"><line x1="1228" y1="337" x2="1342" y2="266" stroke="#e8141c" stroke-width="2.6"/><polygon points="1336.5,259.5 1356.5,257.5 1346,274" fill="#e8141c"/></g><polygon points="1309.5,27 1319.5,27 1314.5,32.5" fill="#000"/><path d="M8,33 L15,33 L11.5,36.8 Z" fill="#000"/><text x="20.2" y="38" font-size="10" fill="#000" textLength="53" lengthAdjust="spacingAndGlyphs" stroke="#000" stroke-width="0.12">GBPJPY-,H4</text><text x="79.3" y="38" font-size="10" fill="#000" textLength="32.6" lengthAdjust="spacingAndGlyphs" stroke="#000" stroke-width="0.12">170.457</text><text x="115.3" y="38" font-size="10" fill="#000" textLength="32.6" lengthAdjust="spacingAndGlyphs" stroke="#000" stroke-width="0.12">170.516</text><text x="151.4" y="38" font-size="10" fill="#000" textLength="32" lengthAdjust="spacingAndGlyphs" stroke="#000" stroke-width="0.12">170.351</text><text x="187.4" y="38" font-size="10" fill="#000" textLength="32.6" lengthAdjust="spacingAndGlyphs" stroke="#000" stroke-width="0.12">170.351</text><rect x="1645" y="40" width="2" height="1" fill="#000"/><text x="1650.5" y="44" font-size="10" fill="#000" textLength="32.6" lengthAdjust="spacingAndGlyphs" stroke="#000" stroke-width="0.12">172.510</text><rect x="1645" y="73" width="2" height="1" fill="#000"/><text x="1650.5" y="77" font-size="10" fill="#000" textLength="32.6" lengthAdjust="spacingAndGlyphs" stroke="#000" stroke-width="0.12">172.080</text><rect x="1645" y="106" width="2" height="1" fill="#000"/><text x="1650.5" y="110" font-size="10" fill="#000" textLength="32.6" lengthAdjust="spacingAndGlyphs" stroke="#000" stroke-width="0.12">171.660</text><rect x="1645" y="139" width="2" height="1" fill="#000"/><rect x="1645" y="172" width="2" height="1" fill="#000"/><rect x="1645" y="205" width="2" height="1" fill="#000"/><rect x="1645" y="238" width="2" height="1" fill="#000"/><text x="1650.5" y="242" font-size="10" fill="#000" textLength="32.6" lengthAdjust="spacingAndGlyphs" stroke="#000" stroke-width="0.12">169.950</text><rect x="1645" y="271" width="2" height="1" fill="#000"/><text x="1650.5" y="275" font-size="10" fill="#000" textLength="32.6" lengthAdjust="spacingAndGlyphs" stroke="#000" stroke-width="0.12">169.530</text><rect x="1645" y="304" width="2" height="1" fill="#000"/><text x="1650.5" y="308" font-size="10" fill="#000" textLength="32.6" lengthAdjust="spacingAndGlyphs" stroke="#000" stroke-width="0.12">169.100</text><rect x="1645" y="337" width="2" height="1" fill="#000"/><text x="1650.5" y="341" font-size="10" fill="#000" textLength="32.6" lengthAdjust="spacingAndGlyphs" stroke="#000" stroke-width="0.12">168.680</text><rect x="1645" y="370" width="2" height="1" fill="#000"/><text x="1650.5" y="374" font-size="10" fill="#000" textLength="32.6" lengthAdjust="spacingAndGlyphs" stroke="#000" stroke-width="0.12">168.250</text><rect x="1645" y="403" width="2" height="1" fill="#000"/><text x="1650.5" y="407" font-size="10" fill="#000" textLength="32.6" lengthAdjust="spacingAndGlyphs" stroke="#000" stroke-width="0.12">167.820</text><rect x="1645" y="436" width="2" height="1" fill="#000"/><text x="1650.5" y="440" font-size="10" fill="#000" textLength="32.6" lengthAdjust="spacingAndGlyphs" stroke="#000" stroke-width="0.12">167.400</text><rect x="1645" y="469" width="2" height="1" fill="#000"/><text x="1650.5" y="473" font-size="10" fill="#000" textLength="32.6" lengthAdjust="spacingAndGlyphs" stroke="#000" stroke-width="0.12">166.970</text><rect x="1645" y="502" width="2" height="1" fill="#000"/><text x="1650.5" y="506" font-size="10" fill="#000" textLength="32.6" lengthAdjust="spacingAndGlyphs" stroke="#000" stroke-width="0.12">166.550</text><rect x="1645" y="535" width="2" height="1" fill="#000"/><text x="1650.5" y="539" font-size="10" fill="#000" textLength="32.6" lengthAdjust="spacingAndGlyphs" stroke="#000" stroke-width="0.12">166.120</text><rect x="1645" y="568" width="2" height="1" fill="#000"/><text x="1650.5" y="572" font-size="10" fill="#000" textLength="32.6" lengthAdjust="spacingAndGlyphs" stroke="#000" stroke-width="0.12">165.700</text><rect x="1645" y="601" width="2" height="1" fill="#000"/><text x="1650.5" y="605" font-size="10" fill="#000" textLength="32.6" lengthAdjust="spacingAndGlyphs" stroke="#000" stroke-width="0.12">165.270</text><rect x="1646" y="132" width="41" height="11" fill="#ff0000"/><text x="1650.5" y="141" font-size="10" fill="#fff" textLength="32.6" lengthAdjust="spacingAndGlyphs" stroke="#fff" stroke-width="0.12">171.241</text><rect x="1646" y="166" width="41" height="11" fill="#ff0000"/><text x="1650.5" y="175" font-size="10" fill="#fff" textLength="32.6" lengthAdjust="spacingAndGlyphs" stroke="#fff" stroke-width="0.12">170.803</text><rect x="1646" y="202" width="41" height="11" fill="#000"/><text x="1650.5" y="211" font-size="10" fill="#fff" textLength="32.6" lengthAdjust="spacingAndGlyphs" stroke="#fff" stroke-width="0.12">170.351</text><rect x="1646" y="216" width="41" height="11" fill="#ff8c00"/><text x="1650.5" y="225" font-size="10" fill="#fff" textLength="32.6" lengthAdjust="spacingAndGlyphs" stroke="#fff" stroke-width="0.12">170.159</text><rect x="1646" y="246" width="41" height="11" fill="#0000ff"/><text x="1650.5" y="255" font-size="10" fill="#fff" textLength="32.6" lengthAdjust="spacingAndGlyphs" stroke="#fff" stroke-width="0.12">169.773</text><rect x="1646" y="278" width="41" height="11" fill="#0000ff"/><text x="1650.5" y="287" font-size="10" fill="#fff" textLength="32.6" lengthAdjust="spacingAndGlyphs" stroke="#fff" stroke-width="0.12">169.361</text><g clip-path="url(#cd)" shape-rendering="crispEdges"><rect x="4" y="674" width="3" height="26" fill="#00ff00"/><rect x="20" y="672" width="3" height="28" fill="#00ff00"/><rect x="36" y="672" width="3" height="28" fill="#00ff00"/><rect x="52" y="672" width="3" height="28" fill="#00ff00"/><rect x="68" y="674" width="3" height="26" fill="#00ff00"/><rect x="84" y="676" width="3" height="24" fill="#00ff00"/><rect x="100" y="678" width="3" height="22" fill="#00ff00"/><rect x="116" y="681" width="3" height="19" fill="#00ff00"/><rect x="132" y="684" width="3" height="16" fill="#00ff00"/><rect x="148" y="689" width="3" height="11" fill="#00ff00"/><rect x="164" y="694" width="3" height="6" fill="#00ff00"/><rect x="180" y="700" width="3" height="1" fill="#00ff00"/><rect x="196" y="700" width="3" height="1" fill="#00ff00"/><rect x="212" y="699" width="3" height="1" fill="#00ff00"/><rect x="228" y="699" width="3" height="1" fill="#00ff00"/><rect x="244" y="697" width="3" height="3" fill="#00ff00"/><rect x="260" y="696" width="3" height="4" fill="#00ff00"/><rect x="276" y="693" width="3" height="7" fill="#00ff00"/><rect x="292" y="691" width="3" height="9" fill="#00ff00"/><rect x="308" y="688" width="3" height="12" fill="#00ff00"/><rect x="324" y="686" width="3" height="14" fill="#00ff00"/><rect x="340" y="684" width="3" height="16" fill="#00ff00"/><rect x="356" y="686" width="3" height="14" fill="#00ff00"/><rect x="372" y="689" width="3" height="11" fill="#00ff00"/><rect x="388" y="696" width="3" height="4" fill="#00ff00"/><rect x="404" y="700" width="3" height="4" fill="#00ff00"/><rect x="420" y="700" width="3" height="9" fill="#00ff00"/><rect x="436" y="700" width="3" height="12" fill="#00ff00"/><rect x="452" y="700" width="3" height="12" fill="#00ff00"/><rect x="468" y="700" width="3" height="11" fill="#00ff00"/><rect x="484" y="700" width="3" height="7" fill="#00ff00"/><rect x="500" y="700" width="3" height="7" fill="#00ff00"/><rect x="516" y="700" width="3" height="7" fill="#00ff00"/><rect x="532" y="700" width="3" height="7" fill="#00ff00"/><rect x="548" y="700" width="3" height="5" fill="#00ff00"/><rect x="564" y="700" width="3" height="5" fill="#00ff00"/><rect x="580" y="700" width="3" height="3" fill="#00ff00"/><rect x="596" y="699" width="3" height="1" fill="#00ff00"/><rect x="612" y="697" width="3" height="3" fill="#00ff00"/><rect x="628" y="696" width="3" height="4" fill="#00ff00"/><rect x="644" y="683" width="3" height="17" fill="#00ff00"/><rect x="660" y="672" width="3" height="28" fill="#00ff00"/><rect x="676" y="656" width="3" height="44" fill="#00ff00"/><rect x="692" y="644" width="3" height="56" fill="#00ff00"/><rect x="708" y="634" width="3" height="66" fill="#00ff00"/><rect x="724" y="623" width="3" height="77" fill="#00ff00"/><rect x="740" y="619" width="3" height="81" fill="#00ff00"/><rect x="756" y="616" width="3" height="84" fill="#00ff00"/><rect x="772" y="614" width="3" height="86" fill="#00ff00"/><rect x="788" y="613" width="3" height="87" fill="#00ff00"/><rect x="804" y="613" width="3" height="87" fill="#00ff00"/><rect x="820" y="613" width="3" height="87" fill="#00ff00"/><rect x="836" y="614" width="3" height="86" fill="#00ff00"/><rect x="852" y="618" width="3" height="82" fill="#00ff00"/><rect x="868" y="629" width="3" height="71" fill="#00ff00"/><rect x="884" y="637" width="3" height="63" fill="#00ff00"/><rect x="900" y="645" width="3" height="55" fill="#00ff00"/><rect x="916" y="653" width="3" height="47" fill="#00ff00"/><rect x="932" y="660" width="3" height="40" fill="#00ff00"/><rect x="948" y="669" width="3" height="31" fill="#00ff00"/><rect x="964" y="675" width="3" height="25" fill="#00ff00"/><rect x="980" y="681" width="3" height="19" fill="#00ff00"/><rect x="996" y="687" width="3" height="13" fill="#00ff00"/><rect x="1012" y="692" width="3" height="8" fill="#00ff00"/><rect x="1028" y="696" width="3" height="4" fill="#00ff00"/><rect x="1044" y="699" width="3" height="1" fill="#00ff00"/><rect x="1060" y="700" width="3" height="8" fill="#00ff00"/><rect x="1076" y="700" width="3" height="12" fill="#00ff00"/><rect x="1092" y="700" width="3" height="14" fill="#00ff00"/><rect x="1108" y="700" width="3" height="14" fill="#00ff00"/><rect x="1124" y="700" width="3" height="14" fill="#00ff00"/><rect x="1140" y="700" width="3" height="13" fill="#00ff00"/><rect x="1156" y="700" width="3" height="5" fill="#00ff00"/><rect x="1172" y="699" width="3" height="1" fill="#00ff00"/><rect x="1188" y="693" width="3" height="7" fill="#00ff00"/><rect x="1204" y="689" width="3" height="11" fill="#00ff00"/><rect x="1220" y="686" width="3" height="14" fill="#00ff00"/><rect x="1236" y="682" width="3" height="18" fill="#00ff00"/><rect x="1252" y="682" width="3" height="18" fill="#00ff00"/><rect x="1268" y="682" width="3" height="18" fill="#00ff00"/><rect x="1284" y="682" width="3" height="18" fill="#00ff00"/><polyline points="5,681 21,679.4 37,678.9 53,677.5 69,677.5 85,675 101,675 117,675.6 133,676.6 149,678.5 165,680.4 181,683.2 197,686.6 213,689.5 229,691.3 245,694.6 261,695.5 277,696.5 293,696.8 309,696 325,694 341,693.2 357,691.3 373,690.2 389,689.8 405,691.7 421,693.2 437,695.1 453,697.8 469,699.7 485,702.5 501,704.6 517,707.4 533,707.8 549,707.8 565,707.8 581,707.4 597,705 613,704 629,702.7 645,700.2 661,696.8 677,690.2 693,684.5 709,675.6 725,667.1 741,658.6 757,649.2 773,640.7 789,632.5 805,626.5 821,621.2 837,618.3 853,616.6 869,616.5 885,618.3 901,622.7 917,626.5 933,630.8 949,636.3 965,643.5 981,652.6 997,660.1 1013,667.7 1029,672.4 1045,678.1 1061,684.7 1077,691.3 1093,696.5 1109,700.2 1125,704 1141,705.9 1157,707.8 1173,707.8 1189,707.4 1205,705 1221,703.1 1237,699.3 1253,696.5 1269,692.3 1285,689.7" fill="none" stroke="#ff0000" stroke-width="2" shape-rendering="crispEdges"/></g><text x="9" y="619" font-size="10" fill="#000" textLength="67" lengthAdjust="spacingAndGlyphs" stroke="#000" stroke-width="0.12">MACD(12,26,9)</text><text x="77.8" y="619" font-size="10" fill="#000" textLength="28.6" lengthAdjust="spacingAndGlyphs" stroke="#000" stroke-width="0.12">0.2729</text><text x="109" y="619" font-size="10" fill="#000" textLength="28" lengthAdjust="spacingAndGlyphs" stroke="#000" stroke-width="0.12">0.1757</text><rect x="1645" y="608" width="1" height="1" fill="#000"/><text x="1648.5" y="617" font-size="10" textLength="27.4" lengthAdjust="spacingAndGlyphs" fill="#000" stroke="#000" stroke-width="0.12">1.4107</text><rect x="1645" y="700" width="1" height="1" fill="#000"/><text x="1648" y="704" font-size="10" textLength="18" lengthAdjust="spacingAndGlyphs" fill="#000" stroke="#000" stroke-width="0.12">0.00</text><rect x="1645" y="718" width="1" height="1" fill="#000"/><text x="1648" y="716" font-size="10" textLength="30.7" lengthAdjust="spacingAndGlyphs" fill="#000" stroke="#000" stroke-width="0.12">-0.2761</text><g clip-path="url(#cr)"><line x1="6" y1="744.5" x2="1642" y2="744.5" stroke="#000" stroke-width="1" stroke-dasharray="3 3"/><line x1="6" y1="775.5" x2="1642" y2="775.5" stroke="#000" stroke-width="1" stroke-dasharray="3 3"/><line x1="6" y1="813.5" x2="1642" y2="813.5" stroke="#000" stroke-width="1" stroke-dasharray="3 3"/><polyline points="5,760.2 21,760.2 37,763.6 53,763.6 69,767.4 85,766.8 101,773.5 117,772.9 133,777.2 149,780.5 165,785.4 181,788 197,773.8 213,773.8 229,773.5 245,770.6 261,772 277,765.9 293,765.5 309,764.6 325,764.7 341,763.8 357,773.2 373,778.9 389,787.4 405,790.8 421,785.9 437,786.5 453,779.8 469,774.6 485,772.8 501,777 517,778.5 533,775.1 549,775.1 565,776.6 581,770.4 597,770 613,771.3 629,771.7 645,752 661,751.9 677,745.4 693,744.5 709,744.5 725,742 741,750.5 757,750.9 773,749 789,748.6 805,748.6 821,748.3 837,747.9 853,756.2 869,770.8 885,770.8 901,771 917,774.7 933,774.6 949,779.8 965,776.5 981,778.9 997,782.4 1013,781 1029,781.3 1045,781.7 1061,790.7 1077,785.3 1093,784.6 1109,781.3 1125,780.6 1141,778.9 1157,763.5 1173,764.5 1189,762.8 1205,764.7 1221,764.7 1237,761.6 1253,769.2 1269,769.7 1285,769.7" fill="none" stroke="#1e90ff" stroke-width="2" shape-rendering="crispEdges"/></g><text x="9.4" y="734" font-size="10" fill="#000" textLength="31.8" lengthAdjust="spacingAndGlyphs" stroke="#000" stroke-width="0.12">RSI(14)</text><text x="43.8" y="734" font-size="10" fill="#000" textLength="33.4" lengthAdjust="spacingAndGlyphs" stroke="#000" stroke-width="0.12">54.9889</text><text x="1648" y="732" font-size="10" textLength="15" lengthAdjust="spacingAndGlyphs" fill="#000" stroke="#000" stroke-width="0.12">100</text><text x="1647.6" y="748" font-size="10" textLength="10.2" lengthAdjust="spacingAndGlyphs" fill="#000" stroke="#000" stroke-width="0.12">80</text><text x="1647.6" y="779" font-size="10" textLength="10.2" lengthAdjust="spacingAndGlyphs" fill="#000" stroke="#000" stroke-width="0.12">50</text><text x="1647.6" y="817" font-size="10" textLength="10" lengthAdjust="spacingAndGlyphs" fill="#000" stroke="#000" stroke-width="0.12">15</text><text x="1648" y="826" font-size="10" textLength="5.2" lengthAdjust="spacingAndGlyphs" fill="#000" stroke="#000" stroke-width="0.12">0</text><rect x="1645" y="723" width="1" height="1" fill="#000"/><rect x="5" y="830" width="1" height="3" fill="#000"/><text x="4.4" y="842" font-size="10" fill="#000" textLength="51" lengthAdjust="spacingAndGlyphs" stroke="#000" stroke-width="0.12">19 Apr 2023</text><rect x="69" y="830" width="1" height="3" fill="#000"/><text x="68.4" y="842" font-size="10" fill="#000" textLength="54" lengthAdjust="spacingAndGlyphs" stroke="#000" stroke-width="0.12">20 Apr 04:00</text><rect x="133" y="830" width="1" height="3" fill="#000"/><text x="132.4" y="842" font-size="10" fill="#000" textLength="54" lengthAdjust="spacingAndGlyphs" stroke="#000" stroke-width="0.12">20 Apr 20:00</text><rect x="197" y="830" width="1" height="3" fill="#000"/><text x="196.4" y="842" font-size="10" fill="#000" textLength="54" lengthAdjust="spacingAndGlyphs" stroke="#000" stroke-width="0.12">21 Apr 12:00</text><rect x="261" y="830" width="1" height="3" fill="#000"/><text x="260.4" y="842" font-size="10" fill="#000" textLength="54" lengthAdjust="spacingAndGlyphs" stroke="#000" stroke-width="0.12">24 Apr 04:00</text><rect x="325" y="830" width="1" height="3" fill="#000"/><text x="324.4" y="842" font-size="10" fill="#000" textLength="54" lengthAdjust="spacingAndGlyphs" stroke="#000" stroke-width="0.12">24 Apr 20:00</text><rect x="389" y="830" width="1" height="3" fill="#000"/><text x="388.4" y="842" font-size="10" fill="#000" textLength="54" lengthAdjust="spacingAndGlyphs" stroke="#000" stroke-width="0.12">25 Apr 12:00</text><rect x="453" y="830" width="1" height="3" fill="#000"/><text x="452.4" y="842" font-size="10" fill="#000" textLength="54" lengthAdjust="spacingAndGlyphs" stroke="#000" stroke-width="0.12">26 Apr 04:00</text><rect x="517" y="830" width="1" height="3" fill="#000"/><text x="516.4" y="842" font-size="10" fill="#000" textLength="54" lengthAdjust="spacingAndGlyphs" stroke="#000" stroke-width="0.12">26 Apr 20:00</text><rect x="581" y="830" width="1" height="3" fill="#000"/><text x="580.4" y="842" font-size="10" fill="#000" textLength="54" lengthAdjust="spacingAndGlyphs" stroke="#000" stroke-width="0.12">27 Apr 12:00</text><rect x="645" y="830" width="1" height="3" fill="#000"/><text x="644.4" y="842" font-size="10" fill="#000" textLength="54" lengthAdjust="spacingAndGlyphs" stroke="#000" stroke-width="0.12">28 Apr 04:00</text><rect x="709" y="830" width="1" height="3" fill="#000"/><text x="708.4" y="842" font-size="10" fill="#000" textLength="54" lengthAdjust="spacingAndGlyphs" stroke="#000" stroke-width="0.12">30 Apr 23:00</text><rect x="773" y="830" width="1" height="3" fill="#000"/><text x="772.4" y="842" font-size="10" fill="#000" textLength="52.8" lengthAdjust="spacingAndGlyphs" stroke="#000" stroke-width="0.12">1 May 12:00</text><rect x="837" y="830" width="1" height="3" fill="#000"/><text x="836.4" y="842" font-size="10" fill="#000" textLength="52.8" lengthAdjust="spacingAndGlyphs" stroke="#000" stroke-width="0.12">2 May 04:00</text><rect x="901" y="830" width="1" height="3" fill="#000"/><text x="900.4" y="842" font-size="10" fill="#000" textLength="52.8" lengthAdjust="spacingAndGlyphs" stroke="#000" stroke-width="0.12">2 May 20:00</text><rect x="965" y="830" width="1" height="3" fill="#000"/><text x="964.4" y="842" font-size="10" fill="#000" textLength="52.8" lengthAdjust="spacingAndGlyphs" stroke="#000" stroke-width="0.12">3 May 12:00</text><rect x="1029" y="830" width="1" height="3" fill="#000"/><text x="1028.4" y="842" font-size="10" fill="#000" textLength="52.8" lengthAdjust="spacingAndGlyphs" stroke="#000" stroke-width="0.12">4 May 04:00</text><rect x="1093" y="830" width="1" height="3" fill="#000"/><text x="1092.4" y="842" font-size="10" fill="#000" textLength="52.8" lengthAdjust="spacingAndGlyphs" stroke="#000" stroke-width="0.12">4 May 20:00</text><rect x="1157" y="830" width="1" height="3" fill="#000"/><text x="1156.4" y="842" font-size="10" fill="#000" textLength="52.8" lengthAdjust="spacingAndGlyphs" stroke="#000" stroke-width="0.12">5 May 12:00</text><rect x="1221" y="830" width="1" height="3" fill="#000"/><text x="1220.4" y="842" font-size="10" fill="#000" textLength="52.8" lengthAdjust="spacingAndGlyphs" stroke="#000" stroke-width="0.12">8 May 04:00</text><rect x="1285" y="830" width="1" height="3" fill="#000"/><text x="1284.4" y="842" font-size="10" fill="#000" textLength="52.8" lengthAdjust="spacingAndGlyphs" stroke="#000" stroke-width="0.12">8 May 20:00</text></svg></body></html>
